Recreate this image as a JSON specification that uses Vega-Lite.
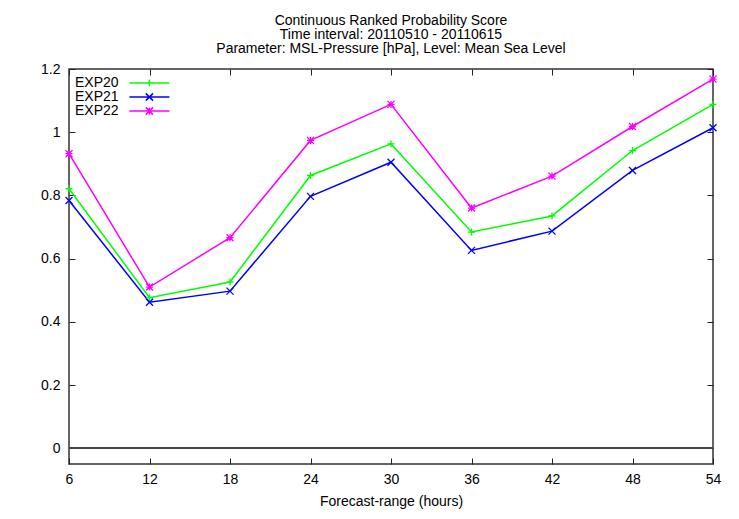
{
  "$schema": "https://vega.github.io/schema/vega-lite/v6.json",
  "autosize": {"type": "none"},
  "width": 644,
  "height": 395,
  "padding": {"left": 69, "top": 69, "right": 26, "bottom": 55},
  "background": "white",
  "title": {
    "text": [
      "Continuous Ranked Probability Score",
      "Time interval: 20110510 - 20110615",
      "Parameter: MSL-Pressure [hPa], Level: Mean Sea Level"
    ],
    "anchor": "middle",
    "frame": "group",
    "font": "Liberation Sans",
    "fontSize": 14,
    "fontWeight": "normal",
    "color": "#000000",
    "lineHeight": 14,
    "offset": 6
  },
  "config": {
    "view": {"stroke": "#333333", "strokeWidth": 1.5},
    "font": "Liberation Sans",
    "axis": {
      "grid": false,
      "domain": false,
      "tickColor": "#222222",
      "tickWidth": 1,
      "tickSize": -6,
      "labelFont": "Liberation Sans",
      "labelFontSize": 14,
      "labelColor": "#000000",
      "titleFont": "Liberation Sans",
      "titleFontSize": 14,
      "titleFontWeight": "normal",
      "titleColor": "#000000"
    }
  },
  "data": {
    "values": [
      {"h": 6, "exp": "EXP20", "crps": 0.821},
      {"h": 12, "exp": "EXP20", "crps": 0.476},
      {"h": 18, "exp": "EXP20", "crps": 0.526},
      {"h": 24, "exp": "EXP20", "crps": 0.863},
      {"h": 30, "exp": "EXP20", "crps": 0.963},
      {"h": 36, "exp": "EXP20", "crps": 0.684},
      {"h": 42, "exp": "EXP20", "crps": 0.735},
      {"h": 48, "exp": "EXP20", "crps": 0.942},
      {"h": 54, "exp": "EXP20", "crps": 1.088},
      {"h": 6, "exp": "EXP21", "crps": 0.784},
      {"h": 12, "exp": "EXP21", "crps": 0.462},
      {"h": 18, "exp": "EXP21", "crps": 0.497},
      {"h": 24, "exp": "EXP21", "crps": 0.797},
      {"h": 30, "exp": "EXP21", "crps": 0.905},
      {"h": 36, "exp": "EXP21", "crps": 0.626},
      {"h": 42, "exp": "EXP21", "crps": 0.687},
      {"h": 48, "exp": "EXP21", "crps": 0.879},
      {"h": 54, "exp": "EXP21", "crps": 1.014},
      {"h": 6, "exp": "EXP22", "crps": 0.932},
      {"h": 12, "exp": "EXP22", "crps": 0.510},
      {"h": 18, "exp": "EXP22", "crps": 0.666},
      {"h": 24, "exp": "EXP22", "crps": 0.974},
      {"h": 30, "exp": "EXP22", "crps": 1.088},
      {"h": 36, "exp": "EXP22", "crps": 0.760},
      {"h": 42, "exp": "EXP22", "crps": 0.861},
      {"h": 48, "exp": "EXP22", "crps": 1.018},
      {"h": 54, "exp": "EXP22", "crps": 1.168}
    ]
  },
  "resolve": {"axis": {"x": "independent", "y": "independent"}},
  "layer": [
    {
      "mark": {"type": "rule", "color": "#444444", "strokeWidth": 1},
      "encoding": {
        "y": {"datum": 0, "type": "quantitative", "axis": null,
              "scale": {"domain": [-0.05, 1.2], "nice": false, "zero": false}}
      }
    },
    {
      "mark": {"type": "point", "filled": false, "size": 64, "opacity": 0},
      "encoding": {
        "x": {"field": "h", "type": "quantitative", "axis": null,
              "scale": {"domain": [6, 54], "nice": false, "zero": false}},
        "y": {"field": "crps", "type": "quantitative", "axis": null},
        "color": {
          "field": "exp", "type": "nominal",
          "scale": {"domain": ["EXP20", "EXP21", "EXP22"], "range": ["#00ff00", "#0000ff", "#ff00ff"]},
          "legend": {
            "title": null,
            "orient": "none",
            "legendX": 7,
            "legendY": 7,
            "symbolSize": 64,
            "symbolOpacity": 1,
            "symbolStrokeWidth": 1.5,
            "symbolFillColor": "transparent",
            "labelFont": "Liberation Sans",
            "labelFontSize": 14,
            "labelColor": "#000000",
            "labelOffset": -15,
            "rowPadding": 0
          }
        },
        "shape": {
          "field": "exp", "type": "nominal",
          "scale": {
            "domain": ["EXP20", "EXP21", "EXP22"],
            "range": [
              "M11.6,0H21.6M15.7,0H17.5M16.6,-0.9V0.9",
              "M11.6,0H21.6M15.7,-0.9L17.5,0.9M15.7,0.9L17.5,-0.9",
              "M11.6,0H21.6M15.7,-0.9L17.5,0.9M15.7,0.9L17.5,-0.9M16.6,-0.9V0.9"
            ]
          },
          "legend": {
            "title": null,
            "orient": "none",
            "legendX": 7,
            "legendY": 7,
            "symbolSize": 64,
            "symbolOpacity": 1,
            "symbolStrokeWidth": 1.5,
            "symbolFillColor": "transparent",
            "labelFont": "Liberation Sans",
            "labelFontSize": 14,
            "labelColor": "#000000",
            "labelOffset": -15,
            "rowPadding": 0
          }
        }
      }
    },
    {
      "mark": {"type": "line", "strokeWidth": 1.5},
      "encoding": {
        "x": {
          "field": "h", "type": "quantitative",
          "axis": {
            "orient": "bottom",
            "values": [6, 12, 18, 24, 30, 36, 42, 48, 54],
            "labelPadding": 14,
            "title": "Forecast-range (hours)",
            "titlePadding": 8,
            "labelFlush": false
          }
        },
        "y": {
          "field": "crps", "type": "quantitative",
          "axis": {
            "orient": "left",
            "values": [0, 0.2, 0.4, 0.6, 0.8, 1, 1.2],
            "format": "~g",
            "labelPadding": 15,
            "title": null
          }
        },
        "color": {"field": "exp", "type": "nominal"}
      }
    },
    {
      "transform": [{"filter": "datum.exp === 'EXP20'"}],
      "mark": {"type": "point", "filled": false, "size": 49, "strokeWidth": 1.3, "opacity": 1, "shape": "M-1,0H1M0,-1V1"},
      "encoding": {
        "x": {
          "field": "h", "type": "quantitative",
          "axis": {
            "orient": "top",
            "values": [6, 12, 18, 24, 30, 36, 42, 48, 54],
            "labels": false,
            "title": null
          }
        },
        "y": {
          "field": "crps", "type": "quantitative",
          "axis": {
            "orient": "right",
            "values": [0, 0.2, 0.4, 0.6, 0.8, 1, 1.2],
            "labels": false,
            "title": null
          }
        },
        "color": {"field": "exp", "type": "nominal"}
      }
    },
    {
      "transform": [{"filter": "datum.exp === 'EXP21'"}],
      "mark": {"type": "point", "filled": false, "size": 49, "strokeWidth": 1.3, "opacity": 1, "shape": "M-1,-1L1,1M-1,1L1,-1"},
      "encoding": {
        "x": {"field": "h", "type": "quantitative", "axis": null},
        "y": {"field": "crps", "type": "quantitative", "axis": null},
        "color": {"field": "exp", "type": "nominal"}
      }
    },
    {
      "transform": [{"filter": "datum.exp === 'EXP22'"}],
      "mark": {"type": "point", "filled": false, "size": 49, "strokeWidth": 1.3, "opacity": 1, "shape": "M-1,-1L1,1M-1,1L1,-1M0,-1V1M-1,0H1"},
      "encoding": {
        "x": {"field": "h", "type": "quantitative", "axis": null},
        "y": {"field": "crps", "type": "quantitative", "axis": null},
        "color": {"field": "exp", "type": "nominal"}
      }
    }
  ]
}
